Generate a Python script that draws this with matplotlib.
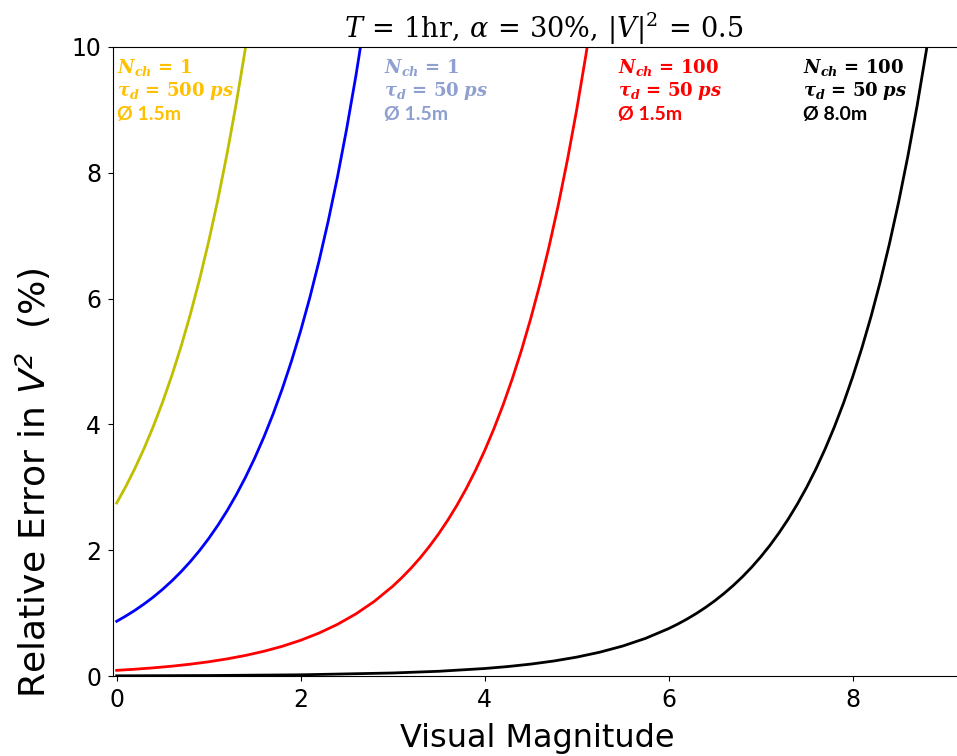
import matplotlib
matplotlib.use("Agg")
import matplotlib.pyplot as plt

# ===== 데이터 =====
mag_yellow = [0.0, 0.1, 0.2, 0.3, 0.4, 0.5, 0.6, 0.7, 0.8, 0.9, 1.0, 1.1, 1.2, 1.3, 1.4, 1.5]
err_yellow = [2.750, 3.015, 3.306, 3.625, 3.975, 4.358, 4.779, 5.240, 5.746, 6.300,
              6.908, 7.574, 8.305, 9.106, 9.985, 10.948]

mag_blue = [0.0, 0.1, 0.2, 0.3, 0.4, 0.5, 0.6, 0.7, 0.8, 0.9, 1.0, 1.1, 1.2, 1.3,
            1.4, 1.5, 1.6, 1.7, 1.8, 1.9, 2.0, 2.1, 2.2, 2.3, 2.4, 2.5, 2.6, 2.7]
err_blue = [0.870, 0.954, 1.046, 1.147, 1.257, 1.379, 1.512, 1.658, 1.818, 1.993,
            2.185, 2.396, 2.627, 2.881, 3.159, 3.464, 3.798, 4.164, 4.566, 5.006,
            5.489, 6.019, 6.600, 7.236, 7.934, 8.700, 9.540, 10.460]

mag_red = [0.0, 0.2, 0.4, 0.6, 0.8, 1.0, 1.2, 1.4, 1.6, 1.8, 2.0, 2.2, 2.4, 2.6, 2.8,
           3.0, 3.1, 3.2, 3.3, 3.4, 3.5, 3.6, 3.7, 3.8, 3.9, 4.0, 4.1, 4.2, 4.3, 4.4,
           4.5, 4.6, 4.7, 4.8, 4.9, 5.0, 5.1, 5.2]
err_red = [0.090, 0.108, 0.130, 0.156, 0.188, 0.226, 0.272, 0.327, 0.393, 0.472, 0.568,
           0.683, 0.821, 0.987, 1.186, 1.426, 1.564, 1.715, 1.880, 2.062, 2.261, 2.479,
           2.718, 2.980, 3.268, 3.583, 3.929, 4.308, 4.724, 5.179, 5.679, 6.226, 6.827,
           7.486, 8.208, 9.000, 9.868, 10.820]

mag_black = [0.0, 1.0, 2.0, 3.0, 3.5, 4.0, 4.25, 4.5, 4.75, 5.0, 5.25, 5.5, 5.75,
             6.0, 6.1, 6.2, 6.3, 6.4, 6.5, 6.6, 6.7, 6.8, 6.9, 7.0, 7.1, 7.2, 7.3,
             7.4, 7.5, 7.6, 7.7, 7.8, 7.9, 8.0, 8.1, 8.2, 8.3, 8.4, 8.5, 8.6, 8.7,
             8.8, 8.9, 9.0]
err_black = [0.003, 0.0075, 0.019, 0.048, 0.075, 0.119, 0.150, 0.189, 0.238, 0.300,
             0.378, 0.476, 0.599, 0.754, 0.826, 0.906, 0.993, 1.089, 1.194, 1.310,
             1.436, 1.574, 1.726, 1.893, 2.075, 2.276, 2.495, 2.736, 3.000, 3.289,
             3.607, 3.955, 4.336, 4.755, 5.213, 5.716, 6.268, 6.873, 7.536, 8.263,
             9.060, 9.934, 10.892, 11.943]

# 주석 (N_ch, tau_d, 직경)
labels_nch = ["1", "1", "100", "100"]
labels_tau = ["500", "50", "50", "50"]
labels_dia = ["1.5m", "1.5m", "1.5m", "8.0m"]
label_x = [0.0, 2.91, 5.45, 7.46]
label_colors = ["#FFC000", "#8E9FD0", "#FF0000", "#000000"]
# =====================================

plt.rcParams["mathtext.fontset"] = "custom"
plt.rcParams["mathtext.rm"] = "DejaVu Serif"
plt.rcParams["mathtext.it"] = "DejaVu Serif:italic"
plt.rcParams["mathtext.bf"] = "DejaVu Serif:bold"
plt.rcParams["mathtext.bfit"] = "DejaVu Serif:italic:bold"
plt.rcParams["mathtext.sf"] = "DejaVu Sans:italic"

fig = plt.figure(figsize=(9.57, 7.56), dpi=100)
ax = fig.add_axes([113 / 957, 80 / 756, 862 / 957, 629 / 756])

ax.plot(mag_yellow, err_yellow, color="y", lw=2)
ax.plot(mag_blue, err_blue, color="b", lw=2)
ax.plot(mag_red, err_red, color="r", lw=2)
ax.plot(mag_black, err_black, color="k", lw=2)

ax.set_xlim(-0.04, 9.33)
ax.set_ylim(0, 10)
ax.set_xticks([0, 2, 4, 6, 8])
ax.set_yticks([0, 2, 4, 6, 8, 10])
ax.tick_params(labelsize=17, pad=5)

ax.set_xlabel("Visual Magnitude", fontsize=23)
ax.xaxis.set_label_coords(0.492, -0.075)
ax.set_ylabel(r"Relative Error in $\mathsf{V}^{\mathsf{2}}$  (%)", fontsize=26)
ax.yaxis.set_label_coords(-0.070, 0.307)
ax.set_title(r"$T\,=\,1\mathrm{hr},\,\alpha\,=\,30\%,\,|V|^2\,=\,0.5$", fontsize=19.5, pad=5)

# 곡선별 설명 텍스트
for xs, n, t, d, c in zip(label_x, labels_nch, labels_tau, labels_dia, label_colors):
    ax.text(xs, 9.67, r"$\mathbfit{N}_{\mathbfit{ch}}\,\mathbf{=\,%s}$" % n,
            color=c, fontsize=13, va="center", ha="left")
    ax.text(xs, 9.30, r"$\mathbfit{\tau}_{\mathbfit{d}}\,\mathbf{=\,%s}\ \mathbfit{ps}$" % t,
            color=c, fontsize=13, va="center", ha="left")
    ax.text(xs, 8.93, "Ø " + d, color=c, fontsize=14, fontweight="bold",
            family="Lato", va="center", ha="left")

fig.savefig("out.png", dpi=100)
